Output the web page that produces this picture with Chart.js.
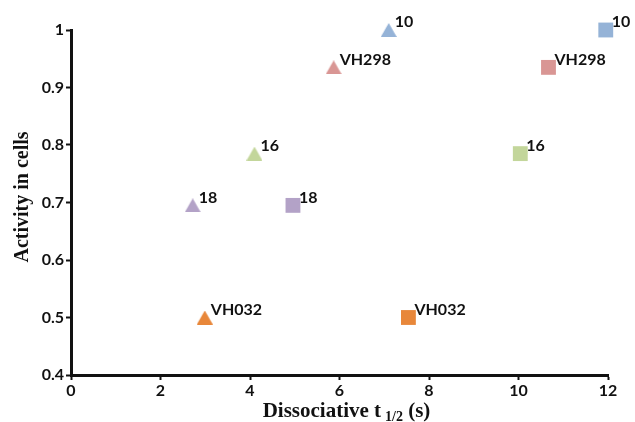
<!DOCTYPE html>
<html><head><meta charset="utf-8">
<script src="https://cdn.jsdelivr.net/npm/chart.js@4/dist/chart.umd.min.js"></script>
<style>html,body{margin:0;padding:0;background:#fff}#wrap{width:635px;height:422px}</style>
</head><body><div id="wrap"><canvas id="c" width="635" height="422"></canvas></div>
<script>
const compounds = ['10','VH298','16','18','VH032'];
const activity = [1.0, 0.935, 0.785, 0.695, 0.5];
const triangleT = [7.1, 5.87, 4.1, 2.72, 2.99];
const squareT = [11.95, 10.67, 10.04, 4.96, 7.54];
const colors = ['#95B3D7','#D99694','#C3D69B','#B3A2C7','#E8873A'];
const xTicks = [0,2,4,6,8,10,12];
const yTicks = [0.4,0.5,0.6,0.7,0.8,0.9,1];

function triangleImage(color){
  const w = 16, h = 14;
  const cv = document.createElement('canvas');
  cv.width = w; cv.height = h;
  const g = cv.getContext('2d');
  g.fillStyle = color;
  g.beginPath();
  g.moveTo(w/2, 0); g.lineTo(w, h); g.lineTo(0, h); g.closePath();
  g.fill();
  return cv;
}
const triStyles = colors.map(triangleImage);

const labelPlugin = {
  id:'labels',
  afterDatasetsDraw(chart){
    const ctx = chart.ctx;
    ctx.save();
    ctx.font = 'bold 16px Lato';
    ctx.fillStyle = '#111';
    ctx.textBaseline = 'middle';
    ctx.textAlign = 'left';
    chart.data.datasets.forEach((ds,di)=>{
      const meta = chart.getDatasetMeta(di);
      meta.data.forEach((pt,i)=>{
        ctx.fillText(compounds[i], pt.x + 6, pt.y - 8);
      });
    });
    const xs = chart.scales.x, ys = chart.scales.y;
    ctx.fillStyle = '#111';
    const big = 'bold 21px "Liberation Serif"', small = 'bold 14px "Liberation Serif"';
    const p1 = 'Dissociative t', p2 = '1/2', p3 = ' (s)';
    ctx.textBaseline = 'alphabetic';
    ctx.font = big;
    const w1 = ctx.measureText(p1).width, w3 = ctx.measureText(p3).width;
    ctx.font = small;
    const w2 = ctx.measureText(p2).width;
    const total = w1 + w2 + w3 + 4;
    const x0 = 346.5 - total/2;
    const by = 417;
    ctx.font = big;
    ctx.fillText(p1, x0, by);
    ctx.font = small;
    ctx.fillText(p2, x0 + w1 + 4, by + 4);
    ctx.font = big;
    ctx.fillText(p3, x0 + w1 + w2 + 4, by);
    ctx.translate(23, 197);
    ctx.rotate(-Math.PI/2);
    ctx.textAlign = 'center';
    ctx.textBaseline = 'middle';
    ctx.font = 'bold 20px "Liberation Serif"';
    ctx.fillText('Activity in cells', 0, 0);
    ctx.restore();
  }
};

new Chart(document.getElementById('c'), {
  type:'scatter',
  data:{datasets:[
    {label:'triangle', data: triangleT.map((t,i)=>({x:t,y:activity[i]})),
     pointStyle: triStyles, pointRadius:8, pointHoverRadius:8,
     backgroundColor: colors, borderColor: colors, borderWidth:0},
    {label:'square', data: squareT.map((t,i)=>({x:t,y:activity[i]})),
     pointStyle:'rect', pointRadius:10.5, pointHoverRadius:10.5,
     backgroundColor: colors, borderColor: colors, borderWidth:0}
  ]},
  options:{
    responsive:false, animation:false, devicePixelRatio:1,
    layout:{autoPadding:false, padding:{left:0,top:30,right:27,bottom:0}},
    plugins:{legend:{display:false}, tooltip:{enabled:false}},
    clip:false,
    scales:{
      x:{type:'linear', min:0, max:12,
        afterBuildTicks(s){ s.ticks = xTicks.map(v=>({value:v})); },
        afterFit(s){ s.height = 47; },
        border:{color:'#111', width:3},
        grid:{drawOnChartArea:false, drawTicks:true, tickLength:5, tickColor:'#111', tickWidth:2},
        ticks:{color:'#111', font:{family:'Lato', weight:'bold', size:16}, padding:1, maxRotation:0}
      },
      y:{type:'linear', min:0.4, max:1,
        afterBuildTicks(s){ s.ticks = yTicks.map(v=>({value:v})); },
        afterFit(s){ s.width = 71; },
        border:{color:'#111', width:3},
        grid:{drawOnChartArea:false, drawTicks:true, tickLength:5, tickColor:'#111', tickWidth:2},
        ticks:{color:'#111', font:{family:'Lato', weight:'bold', size:16}, padding:2,
          callback:(v)=>String(Math.round(v*10)/10)}
      }
    }
  },
  plugins:[labelPlugin]
});
</script></body></html>
